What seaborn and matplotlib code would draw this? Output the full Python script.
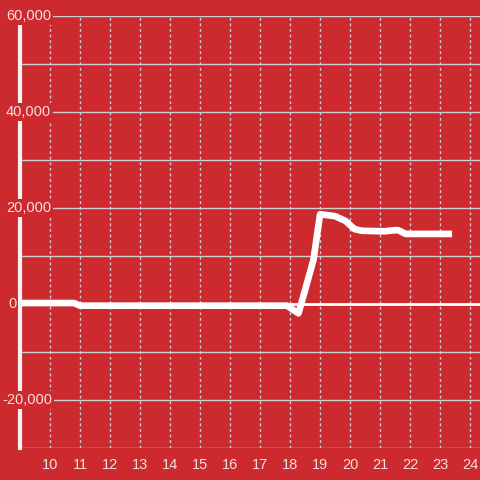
import pandas as pd
import matplotlib.pyplot as plt
import matplotlib.transforms as mtransforms
import seaborn as sns

# Series (hour of day vs value)
hours = [9.0, 10.8, 11.0, 17.9, 18.28, 18.5, 18.78, 19.0, 19.5, 19.85,
         20.15, 20.4, 21.15, 21.45, 21.6, 21.85, 23.4]
values = [200, 200, -350, -350, -1950, 2900, 9200, 18700, 18300, 17300,
          15600, 15250, 15150, 15350, 15400, 14600, 14600]
x_ticks = list(range(10, 25))
y_ticks = [-20000, 0, 20000, 40000, 60000]
y_grid = list(range(-30000, 60001, 10000))

bg = '#cc2a2f'
txt = '#f5dede'
grid_col = '#cfcfcf'

sns.set_style("white", {"axes.facecolor": bg, "figure.facecolor": bg})
plt.rcParams['font.family'] = ['Liberation Sans', 'DejaVu Sans']

df = pd.DataFrame({'hour': hours, 'value': values})

fig = plt.figure(figsize=(4.8, 4.8), dpi=100)
ax = fig.add_axes([20 / 480, 32 / 480, 460 / 480, 432 / 480])

# grid
for yv in y_grid:
    ax.axhline(yv, color=grid_col, lw=1, zorder=1)
for xv in x_ticks:
    ax.axvline(xv, color=grid_col, lw=1, ls=(0, (2, 2)), zorder=1)
ax.axhline(0, color='white', lw=2, zorder=2)

sns.lineplot(data=df, x='hour', y='value', ax=ax, color='white', lw=4.8,
             zorder=3, solid_capstyle='butt', solid_joinstyle='round')

ax.set_xlim(9.0, 24.33)
ax.set_ylim(-30000, 60000)

for s in ['top', 'right', 'bottom']:
    ax.spines[s].set_visible(False)
ax.spines['left'].set_color('#f2f2f2')
ax.spines['left'].set_linewidth(3)
ax.spines['left'].set_zorder(4)

ax.set_xticks(x_ticks)
ax.set_xticklabels([str(t) for t in x_ticks], color=txt, fontsize=10.5)
ax.tick_params(axis='x', length=0, pad=7)
ax.set_yticks([])
ax.set_xlabel('')
ax.set_ylabel('')

# y labels drawn over the spine with a background box (left edge in px)
label_left = {60000: 6, 40000: 6, 20000: 6, 0: 8, -20000: 2}
trans = mtransforms.blended_transform_factory(fig.transFigure, ax.transData)
for yv in y_ticks:
    ax.text(label_left[yv] / 480, yv, f'{yv:,}', ha='left', va='center',
            color=txt, fontsize=10.5, zorder=5, clip_on=False, transform=trans,
            bbox=dict(facecolor=bg, edgecolor='none', pad=1.5))

fig.savefig('out.png', dpi=100, facecolor=bg)
